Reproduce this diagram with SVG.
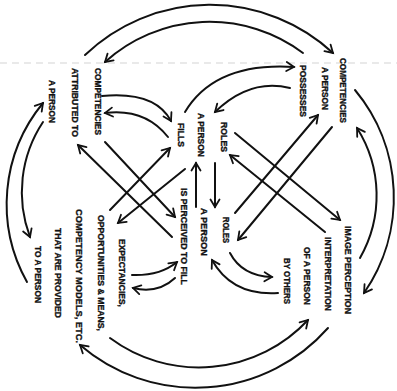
<svg xmlns="http://www.w3.org/2000/svg" width="397" height="391" viewBox="0 0 397 391">
<defs>
<style>
.t{font-family:"Liberation Sans",Arial,sans-serif;font-weight:bold;font-size:9px;fill:#111;stroke:#111;stroke-width:0.35;text-anchor:middle}
.c{fill:none;stroke:#111;stroke-width:2;stroke-linecap:round;marker-end:url(#ah)}
.fold{fill:none;stroke:#d4d4d4;stroke-width:1.2;stroke-dasharray:7 5}
</style>
<marker id="ah" markerUnits="userSpaceOnUse" markerWidth="12" markerHeight="12" viewBox="0 0 12 12" refX="9" refY="6" orient="auto">
<path d="M1.5,1.5 L9,6 L1.5,10.5" fill="none" stroke="#111" stroke-width="1.8" stroke-linecap="round" stroke-linejoin="miter"/>
</marker>
</defs>
<rect width="397" height="391" fill="#fff"/>
<line class="fold" x1="0" y1="63" x2="397" y2="63"/>
<g id="connectors">
<path class="c" d="M85,55 A181,181 0 0 1 333,53"/>
<path class="c" d="M303,53 A156,156 0 0 0 105,62"/>
<path class="c" d="M355,90 A168,168 0 0 1 364,293"/>
<path class="c" d="M360,258 A126,126 0 0 0 357,128"/>
<path class="c" d="M110,338 A149,149 0 0 0 308,320"/>
<path class="c" d="M328,328 A177,177 0 0 1 80,345"/>
<path class="c" d="M27,282 A159,159 0 0 1 43,103"/>
<path class="c" d="M43,122 A127,127 0 0 0 30,237"/>
<path class="c" d="M102,96 Q155,91 171,121"/>
<path class="c" d="M168,137 Q145,108 105,113"/>
<path class="c" d="M185,112 Q215,62 294,67"/>
<path class="c" d="M290,88 Q250,78 215,112"/>
<path class="c" d="M132,275 Q160,276 177,262"/>
<path class="c" d="M175,278 Q158,294 133,288"/>
<path class="c" d="M230,253 Q242,276 272,277"/>
<path class="c" d="M278,293 Q232,296 212,260"/>
<path class="c" d="M105,142 L175,217"/>
<path class="c" d="M172,237 L78,145"/>
<path class="c" d="M110,210 L170,148"/>
<path class="c" d="M185,169 L118,223"/>
<path class="c" d="M235,213 L318,115"/>
<path class="c" d="M332,127 L238,240"/>
<path class="c" d="M235,133 L340,220"/>
<path class="c" d="M325,232 L230,155"/>
<path class="c" d="M196,207 L196,163"/>
<path class="c" d="M215,163 L215,207"/>
</g>
<g id="competencies-attributed">
<text class="t" transform="translate(95.3,101.5) rotate(90)" textLength="67" lengthAdjust="spacingAndGlyphs">COMPETENCIES</text>
<text class="t" transform="translate(72.3,102.5) rotate(90)" textLength="69" lengthAdjust="spacingAndGlyphs">ATTRIBUTED TO</text>
<text class="t" transform="translate(49.3,101.5) rotate(90)" textLength="43" lengthAdjust="spacingAndGlyphs">A PERSON</text>
</g>
<g id="competencies-possessed">
<text class="t" transform="translate(340.3,90.5) rotate(90)" textLength="65" lengthAdjust="spacingAndGlyphs">COMPETENCIES</text>
<text class="t" transform="translate(322.3,88.5) rotate(90)" textLength="43" lengthAdjust="spacingAndGlyphs">A PERSON</text>
<text class="t" transform="translate(300.3,91) rotate(90)" textLength="52" lengthAdjust="spacingAndGlyphs">POSSESSES</text>
</g>
<g id="roles-filled">
<text class="t" transform="translate(220.8,137) rotate(90)" textLength="30" lengthAdjust="spacingAndGlyphs">ROLES</text>
<text class="t" transform="translate(197.8,135) rotate(90)" textLength="44" lengthAdjust="spacingAndGlyphs">A PERSON</text>
<text class="t" transform="translate(178.3,135) rotate(90)" textLength="24" lengthAdjust="spacingAndGlyphs">FILLS</text>
</g>
<g id="roles-perceived">
<text class="t" transform="translate(222.8,230) rotate(90)" textLength="26" lengthAdjust="spacingAndGlyphs">ROLES</text>
<text class="t" transform="translate(201.3,232) rotate(90)" textLength="48" lengthAdjust="spacingAndGlyphs">A PERSON</text>
<text class="t" transform="translate(180.8,236.5) rotate(90)" textLength="97" lengthAdjust="spacingAndGlyphs">IS PERCEIVED TO FILL</text>
</g>
<g id="expectancies">
<text class="t" transform="translate(119.3,273) rotate(90)" textLength="68" lengthAdjust="spacingAndGlyphs">EXPECTANCIES,</text>
<text class="t" transform="translate(98.3,273) rotate(90)" textLength="116" lengthAdjust="spacingAndGlyphs">OPPORTUNITIES &amp; MEANS,</text>
<text class="t" transform="translate(75.8,276) rotate(90)" textLength="134" lengthAdjust="spacingAndGlyphs">COMPETENCY MODELS, ETC.</text>
<text class="t" transform="translate(54.8,273) rotate(90)" textLength="90" lengthAdjust="spacingAndGlyphs">THAT ARE PROVIDED</text>
<text class="t" transform="translate(34.8,274.5) rotate(90)" textLength="57" lengthAdjust="spacingAndGlyphs">TO A PERSON</text>
</g>
<g id="image-perception">
<text class="t" transform="translate(345.3,270) rotate(90)" textLength="88" lengthAdjust="spacingAndGlyphs">IMAGE PERCEPTION</text>
<text class="t" transform="translate(324.8,274) rotate(90)" textLength="74" lengthAdjust="spacingAndGlyphs">INTERPRETATION</text>
<text class="t" transform="translate(303.8,276) rotate(90)" textLength="58" lengthAdjust="spacingAndGlyphs">OF A PERSON</text>
<text class="t" transform="translate(283.8,281) rotate(90)" textLength="46" lengthAdjust="spacingAndGlyphs">BY OTHERS</text>
</g>
</svg>
